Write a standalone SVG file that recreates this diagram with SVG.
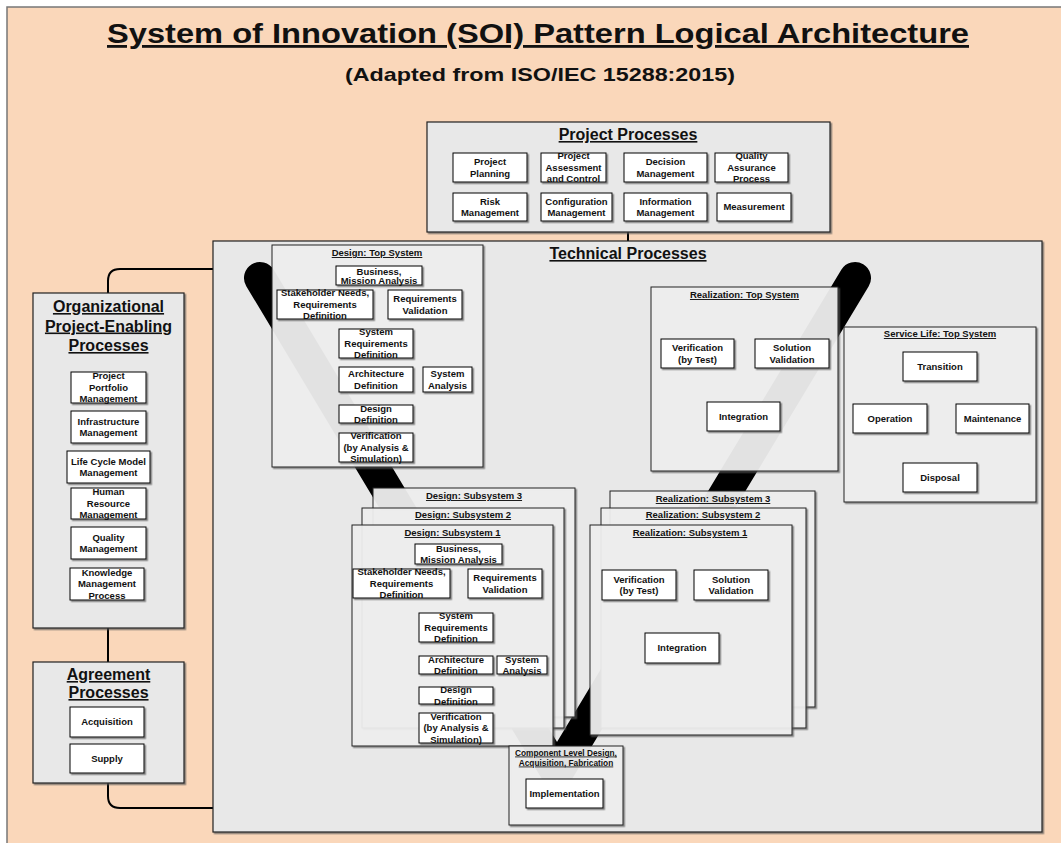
<svg xmlns="http://www.w3.org/2000/svg" width="1061" height="843" viewBox="0 0 1061 843">
<defs>
<filter id="sh" x="-10%" y="-10%" width="130%" height="130%"><feDropShadow dx="1.5" dy="1.5" stdDeviation="0.5" flood-color="#555" flood-opacity="0.7"/></filter>
<style>
.t{font-family:"Liberation Sans",Arial,sans-serif;font-weight:bold;fill:#111;text-anchor:middle}
.b{font-size:9.5px}
.h{font-size:16px;text-decoration:underline}
.s{font-size:9.5px;text-decoration:underline}
.cont{fill:#E8E8E8;stroke:#222;stroke-width:1.2;filter:url(#sh)}
.pan{fill:#F5F5F5;fill-opacity:0.88;stroke:#222;stroke-width:1;filter:url(#sh)}
.box{fill:#FFF;stroke:#000;stroke-width:1;filter:url(#sh)}
.con{fill:none;stroke:#000;stroke-width:2}
</style>
</defs>
<rect x="0" y="0" width="1061" height="843" fill="#FFF"/>
<rect x="7" y="7" width="1060" height="840" fill="#FAD7BA" stroke="#777" stroke-width="1.5"/>
<text class="t" x="538" y="43" font-size="28" text-decoration="underline" textLength="862" lengthAdjust="spacingAndGlyphs">System of Innovation (SOI) Pattern Logical Architecture</text>
<text class="t" x="540" y="81" font-size="19" textLength="390" lengthAdjust="spacingAndGlyphs">(Adapted from ISO/IEC 15288:2015)</text>

<g id="connectors">
<path class="con" d="M628,232 V241"/>
<path class="con" d="M213,269 H120 Q108,269 108,281 V293"/>
<path class="con" d="M108,628 V662"/>
<path class="con" d="M108,783 V796 Q108,808 120,808 H213"/>
</g>

<g id="project-processes">
<rect class="cont" x="427" y="122" width="403" height="110"/>
<text class="t h" x="628" y="140">Project Processes</text>
<rect class="box" x="453" y="153" width="74" height="29"/>
<text class="t b" x="490" y="165.2">Project</text><text class="t b" x="490" y="176.7">Planning</text>
<rect class="box" x="541" y="153" width="65" height="29"/>
<text class="t b" x="573.5" y="159.4">Project</text><text class="t b" x="573.5" y="170.9">Assessment</text><text class="t b" x="573.5" y="182.4">and Control</text>
<rect class="box" x="624" y="153" width="83" height="29"/>
<text class="t b" x="665.5" y="165.2">Decision</text><text class="t b" x="665.5" y="176.7">Management</text>
<rect class="box" x="715" y="153" width="73" height="29"/>
<text class="t b" x="751.5" y="159.4">Quality</text><text class="t b" x="751.5" y="170.9">Assurance</text><text class="t b" x="751.5" y="182.4">Process</text>
<rect class="box" x="453" y="193" width="74" height="28"/>
<text class="t b" x="490" y="204.7">Risk</text><text class="t b" x="490" y="216.2">Management</text>
<rect class="box" x="541" y="193" width="71" height="28"/>
<text class="t b" x="576.5" y="204.7">Configuration</text><text class="t b" x="576.5" y="216.2">Management</text>
<rect class="box" x="624" y="193" width="83" height="28"/>
<text class="t b" x="665.5" y="204.7">Information</text><text class="t b" x="665.5" y="216.2">Management</text>
<rect class="box" x="717" y="193" width="74" height="28"/>
<text class="t b" x="754" y="210.4">Measurement</text>
</g>

<g id="organizational-processes">
<rect class="cont" x="33" y="293" width="151" height="335"/>
<text class="t h" x="108.5" y="312">Organizational</text>
<text class="t h" x="108.5" y="331.5">Project-Enabling</text>
<text class="t h" x="108.5" y="351">Processes</text>
<rect class="box" x="71" y="372" width="75" height="31"/>
<text class="t b" x="108.5" y="379.4">Project</text><text class="t b" x="108.5" y="390.9">Portfolio</text><text class="t b" x="108.5" y="402.4">Management</text>
<rect class="box" x="71" y="411" width="75" height="32"/>
<text class="t b" x="108.5" y="424.7">Infrastructure</text><text class="t b" x="108.5" y="436.2">Management</text>
<rect class="box" x="67" y="451" width="83" height="32"/>
<text class="t b" x="108.5" y="464.7">Life Cycle Model</text><text class="t b" x="108.5" y="476.2">Management</text>
<rect class="box" x="71" y="488" width="75" height="31"/>
<text class="t b" x="108.5" y="495.4">Human</text><text class="t b" x="108.5" y="506.9">Resource</text><text class="t b" x="108.5" y="518.4">Management</text>
<rect class="box" x="71" y="527" width="75" height="32"/>
<text class="t b" x="108.5" y="540.7">Quality</text><text class="t b" x="108.5" y="552.2">Management</text>
<rect class="box" x="70" y="568" width="74" height="32"/>
<text class="t b" x="107" y="575.9">Knowledge</text><text class="t b" x="107" y="587.4">Management</text><text class="t b" x="107" y="598.9">Process</text>
</g>

<g id="agreement-processes">
<rect class="cont" x="33" y="662" width="151" height="121"/>
<text class="t h" x="108.5" y="680">Agreement</text>
<text class="t h" x="108.5" y="698">Processes</text>
<rect class="box" x="70" y="707" width="74" height="30"/>
<text class="t b" x="107" y="725.4">Acquisition</text>
<rect class="box" x="70" y="744" width="74" height="29"/>
<text class="t b" x="107" y="761.9">Supply</text>
</g>

<g id="technical-processes">
<rect class="cont" x="213" y="241" width="829" height="591"/>
<text class="t h" x="628" y="259">Technical Processes</text>
<path d="M260,278 L557,773 L855,278" fill="none" stroke="#000" stroke-width="32" stroke-linecap="round" stroke-linejoin="round"/>
</g>

<g id="design-top-system">
<rect class="pan" x="272" y="245" width="211" height="222"/>
<text class="t s" x="377" y="256">Design: Top System</text>
<rect class="box" x="336" y="266" width="86" height="19"/>
<text class="t b" x="379" y="274.5">Business,</text><text class="t b" x="379" y="284">Mission Analysis</text>
<rect class="box" x="277" y="290" width="96" height="29"/>
<text class="t b" x="325" y="296.4">Stakeholder Needs,</text><text class="t b" x="325" y="307.9">Requirements</text><text class="t b" x="325" y="319.4">Definition</text>
<rect class="box" x="388" y="290" width="74" height="29"/>
<text class="t b" x="425" y="302.2">Requirements</text><text class="t b" x="425" y="313.7">Validation</text>
<rect class="box" x="339" y="329" width="74" height="29"/>
<text class="t b" x="376" y="335.4">System</text><text class="t b" x="376" y="346.9">Requirements</text><text class="t b" x="376" y="358.4">Definition</text>
<rect class="box" x="339" y="367" width="74" height="25"/>
<text class="t b" x="376" y="377.2">Architecture</text><text class="t b" x="376" y="388.7">Definition</text>
<rect class="box" x="423" y="367" width="49" height="25"/>
<text class="t b" x="447.5" y="377.2">System</text><text class="t b" x="447.5" y="388.7">Analysis</text>
<rect class="box" x="339" y="405" width="74" height="18"/>
<text class="t b" x="376" y="411.7">Design</text><text class="t b" x="376" y="423.2">Definition</text>
<rect class="box" x="339" y="433" width="74" height="29"/>
<text class="t b" x="376" y="439.4">Verification</text><text class="t b" x="376" y="450.9">(by Analysis &amp;</text><text class="t b" x="376" y="462.4">Simulation)</text>
</g>

<g id="realization-top-system">
<rect class="pan" x="651" y="287" width="187" height="184"/>
<text class="t s" x="744.5" y="298">Realization: Top System</text>
<rect class="box" x="661" y="339" width="73" height="29"/>
<text class="t b" x="697.5" y="351.2">Verification</text><text class="t b" x="697.5" y="362.7">(by Test)</text>
<rect class="box" x="755" y="339" width="74" height="29"/>
<text class="t b" x="792" y="351.2">Solution</text><text class="t b" x="792" y="362.7">Validation</text>
<rect class="box" x="707" y="402" width="73" height="29"/>
<text class="t b" x="743.5" y="419.9">Integration</text>
</g>

<g id="service-life-top-system">
<rect class="pan" x="844" y="327" width="192" height="175"/>
<text class="t s" x="940" y="337">Service Life: Top System</text>
<rect class="box" x="903" y="352" width="74" height="29"/>
<text class="t b" x="940" y="369.9">Transition</text>
<rect class="box" x="853" y="404" width="74" height="29"/>
<text class="t b" x="890" y="421.9">Operation</text>
<rect class="box" x="956" y="404" width="73" height="29"/>
<text class="t b" x="992.5" y="421.9">Maintenance</text>
<rect class="box" x="903" y="463" width="74" height="29"/>
<text class="t b" x="940" y="480.9">Disposal</text>
</g>

<g id="design-subsystem-3">
<rect class="pan" x="373" y="488" width="202" height="229"/>
<text class="t s" x="474" y="499">Design: Subsystem 3</text>
</g>
<g id="design-subsystem-2">
<rect class="pan" x="362" y="508" width="202" height="220"/>
<text class="t s" x="463" y="518">Design: Subsystem 2</text>
</g>
<g id="design-subsystem-1">
<rect class="pan" x="352" y="525" width="201" height="221"/>
<text class="t s" x="452.5" y="536">Design: Subsystem 1</text>
<rect class="box" x="415" y="544" width="87" height="20"/>
<text class="t b" x="458.5" y="551.7">Business,</text><text class="t b" x="458.5" y="563.2">Mission Analysis</text>
<rect class="box" x="353" y="569" width="97" height="29"/>
<text class="t b" x="401.5" y="575.4">Stakeholder Needs,</text><text class="t b" x="401.5" y="586.9">Requirements</text><text class="t b" x="401.5" y="598.4">Definition</text>
<rect class="box" x="468" y="569" width="74" height="29"/>
<text class="t b" x="505" y="581.2">Requirements</text><text class="t b" x="505" y="592.7">Validation</text>
<rect class="box" x="419" y="613" width="74" height="29"/>
<text class="t b" x="456" y="619.4">System</text><text class="t b" x="456" y="630.9">Requirements</text><text class="t b" x="456" y="642.4">Definition</text>
<rect class="box" x="419" y="656" width="74" height="18"/>
<text class="t b" x="456" y="662.7">Architecture</text><text class="t b" x="456" y="674.2">Definition</text>
<rect class="box" x="497" y="656" width="50" height="18"/>
<text class="t b" x="522" y="662.7">System</text><text class="t b" x="522" y="674.2">Analysis</text>
<rect class="box" x="419" y="687" width="74" height="17"/>
<text class="t b" x="456" y="693.2">Design</text><text class="t b" x="456" y="704.7">Definition</text>
<rect class="box" x="419" y="713" width="74" height="30"/>
<text class="t b" x="456" y="719.9">Verification</text><text class="t b" x="456" y="731.4">(by Analysis &amp;</text><text class="t b" x="456" y="742.9">Simulation)</text>
</g>

<g id="realization-subsystem-3">
<rect class="pan" x="610" y="491" width="205" height="216"/>
<text class="t s" x="713" y="502">Realization: Subsystem 3</text>
</g>
<g id="realization-subsystem-2">
<rect class="pan" x="601" y="508" width="205" height="220"/>
<text class="t s" x="703" y="518">Realization: Subsystem 2</text>
</g>
<g id="realization-subsystem-1">
<rect class="pan" x="590" y="525" width="202" height="210"/>
<text class="t s" x="690" y="536">Realization: Subsystem 1</text>
<rect class="box" x="602" y="570" width="74" height="30"/>
<text class="t b" x="639" y="582.7">Verification</text><text class="t b" x="639" y="594.2">(by Test)</text>
<rect class="box" x="694" y="570" width="74" height="30"/>
<text class="t b" x="731" y="582.7">Solution</text><text class="t b" x="731" y="594.2">Validation</text>
<rect class="box" x="645" y="633" width="74" height="30"/>
<text class="t b" x="682" y="651.4">Integration</text>
</g>

<g id="component-level">
<rect class="pan" x="509" y="746" width="114" height="79"/>
<text class="t" font-size="8.3" text-decoration="underline" x="566" y="755.5">Component Level Design,</text>
<text class="t" font-size="8.3" text-decoration="underline" x="566" y="765.5">Acquisition, Fabrication</text>
<rect class="box" x="526" y="779" width="77" height="29"/>
<text class="t b" x="564.5" y="796.9">Implementation</text>
</g>
</svg>
